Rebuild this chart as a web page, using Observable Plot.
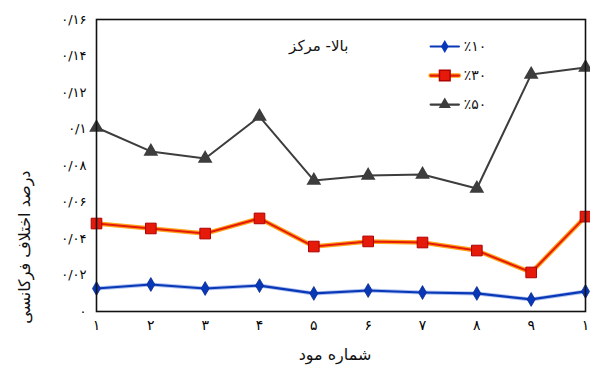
<!DOCTYPE html>
<html>
<head>
<meta charset="utf-8">
<script src="https://cdn.jsdelivr.net/npm/d3@7"></script>
<script src="https://cdn.jsdelivr.net/npm/@observablehq/plot@0.6"></script>
<style>
  html, body { margin: 0; padding: 0; background: #fff; }
  #chart svg { font-family: "DejaVu Sans", sans-serif; }
</style>
</head>
<body>
<div id="chart"></div>
<script>
// Mode numbers and their Persian tick labels
const modes = [1, 2, 3, 4, 5, 6, 7, 8, 9, 10];
const modeLabels = ["۱", "۲", "۳", "۴", "۵", "۶", "۷", "۸", "۹", "۱"];

// Frequency difference (fraction) for each damage level
const series10 = [0.0126, 0.0148, 0.0126, 0.0142, 0.0099, 0.0115, 0.0104, 0.0099, 0.0066, 0.0110];
const series30 = [0.0482, 0.0455, 0.0427, 0.0510, 0.0356, 0.0384, 0.0378, 0.0334, 0.0214, 0.0520];
const series50 = [0.1008, 0.0877, 0.0838, 0.1068, 0.0718, 0.0745, 0.0751, 0.0674, 0.1299, 0.1337];

// Y ticks and their Persian labels
const yTicks = [0, 0.02, 0.04, 0.06, 0.08, 0.10, 0.12, 0.14, 0.16];
const yTickLabels = ["۰", "۰/۰۲", "۰/۰۴", "۰/۰۶", "۰/۰۸", "۰/۱", "۰/۱۲", "۰/۱۴", "۰/۱۶"];

const seriesNames = ["٪۱۰", "٪۳۰", "٪۵۰"];
const panelTitle = "بالا- مرکز";
const xTitle = "شماره مود";
const yTitle = "درصد اختلاف فرکانسی";

const rows = (vals) => modes.map((m, i) => ({mode: m, value: vals[i]}));
const d10 = rows(series10), d30 = rows(series30), d50 = rows(series50);

// Legend rows placed in data space inside the upper right of the frame
const legendX = [7.15, 7.67];
const legendMark = 7.41;
const legendText = 7.76;
const legendY = [0.1452, 0.1293, 0.1134];
const legendLines = legendY.flatMap((y, k) => legendX.map(x => ({x, y, k})));

const blue = "#0838b8", red = "#e51a0a", halo = "#ffa31a", gray = "#3d3d3d";

const plot = Plot.plot({
  width: 590,
  height: 369,
  marginLeft: 96,
  marginRight: 5,
  marginTop: 19,
  marginBottom: 58,
  style: {fontFamily: "DejaVu Sans, sans-serif", background: "#fff"},
  x: {domain: [1, 10]},
  y: {domain: [0, 0.16]},
  marks: [
    Plot.axisX({ticks: modes, tickSize: 0, tickPadding: 9, fontSize: 14, label: null,
      tickFormat: (d) => modeLabels[modes.indexOf(d)]}),
    Plot.axisY({ticks: yTicks, tickSize: 0, tickPadding: 10, fontSize: 13, label: null,
      tickFormat: (d) => yTickLabels[yTicks.findIndex(t => Math.abs(t - d) < 1e-9)]}),

    // 50% series
    Plot.line(d50, {x: "mode", y: "value", stroke: gray, strokeWidth: 2}),
    Plot.dot(d50, {x: "mode", y: "value", symbol: "triangle", r: 4.5, fill: gray, stroke: gray}),

    // 30% series with orange halo
    Plot.line(d30, {x: "mode", y: "value", stroke: halo, strokeWidth: 4.5}),
    Plot.line(d30, {x: "mode", y: "value", stroke: red, strokeWidth: 2}),
    Plot.dot(d30, {x: "mode", y: "value", symbol: "square", r: 6, fill: red, stroke: "#b00000", strokeWidth: 1}),

    // 10% series
    Plot.line(d10, {x: "mode", y: "value", stroke: "#5b7fe0", strokeWidth: 4, strokeOpacity: 0.5}),
    Plot.line(d10, {x: "mode", y: "value", stroke: blue, strokeWidth: 2.2}),
    Plot.dot(d10, {x: "mode", y: "value", symbol: "diamond", r: 4.2, fill: blue, stroke: "#072a8a", strokeWidth: 0.8}),

    Plot.frame({stroke: "#111", strokeWidth: 1.6}),

    // Legend
    Plot.line(legendLines.filter(d => d.k === 1), {x: "x", y: "y", stroke: halo, strokeWidth: 4.5}),
    Plot.line(legendLines, {x: "x", y: "y", z: "k",
      stroke: (d) => [blue, red, gray][d.k], strokeWidth: 2.2}),
    Plot.dot([0], {x: legendMark, y: legendY[0], symbol: "diamond", r: 4, fill: blue}),
    Plot.dot([0], {x: legendMark, y: legendY[1], symbol: "square", r: 6, fill: red, stroke: "#b00000"}),
    Plot.dot([0], {x: legendMark, y: legendY[2], symbol: "triangle", r: 4.5, fill: gray}),
    Plot.text(seriesNames, {x: legendText, y: (d, i) => legendY[i], text: (d) => d,
      textAnchor: "start", fontSize: 14, fill: "#111"}),

    Plot.text([panelTitle], {x: 5.09, y: legendY[0], text: (d) => d, fontSize: 15, fill: "#111",
      className: "rtl-title"}),

    // Axis titles
    Plot.text([xTitle], {frameAnchor: "bottom", dx: -6, dy: 48, text: (d) => d, fontSize: 16, fill: "#111",
      className: "rtl-title"}),
    Plot.text([yTitle], {frameAnchor: "left", dx: -72, dy: 5, rotate: -90, text: (d) => d, fontSize: 16, fill: "#111",
      className: "rtl-title"})
  ]
});

// Persian titles are laid out right-to-left so that centring applies to the whole run
d3.select(plot).selectAll(".rtl-title text").attr("direction", "rtl").attr("unicode-bidi", "embed");

document.getElementById("chart").appendChild(plot);
</script>
</body>
</html>
